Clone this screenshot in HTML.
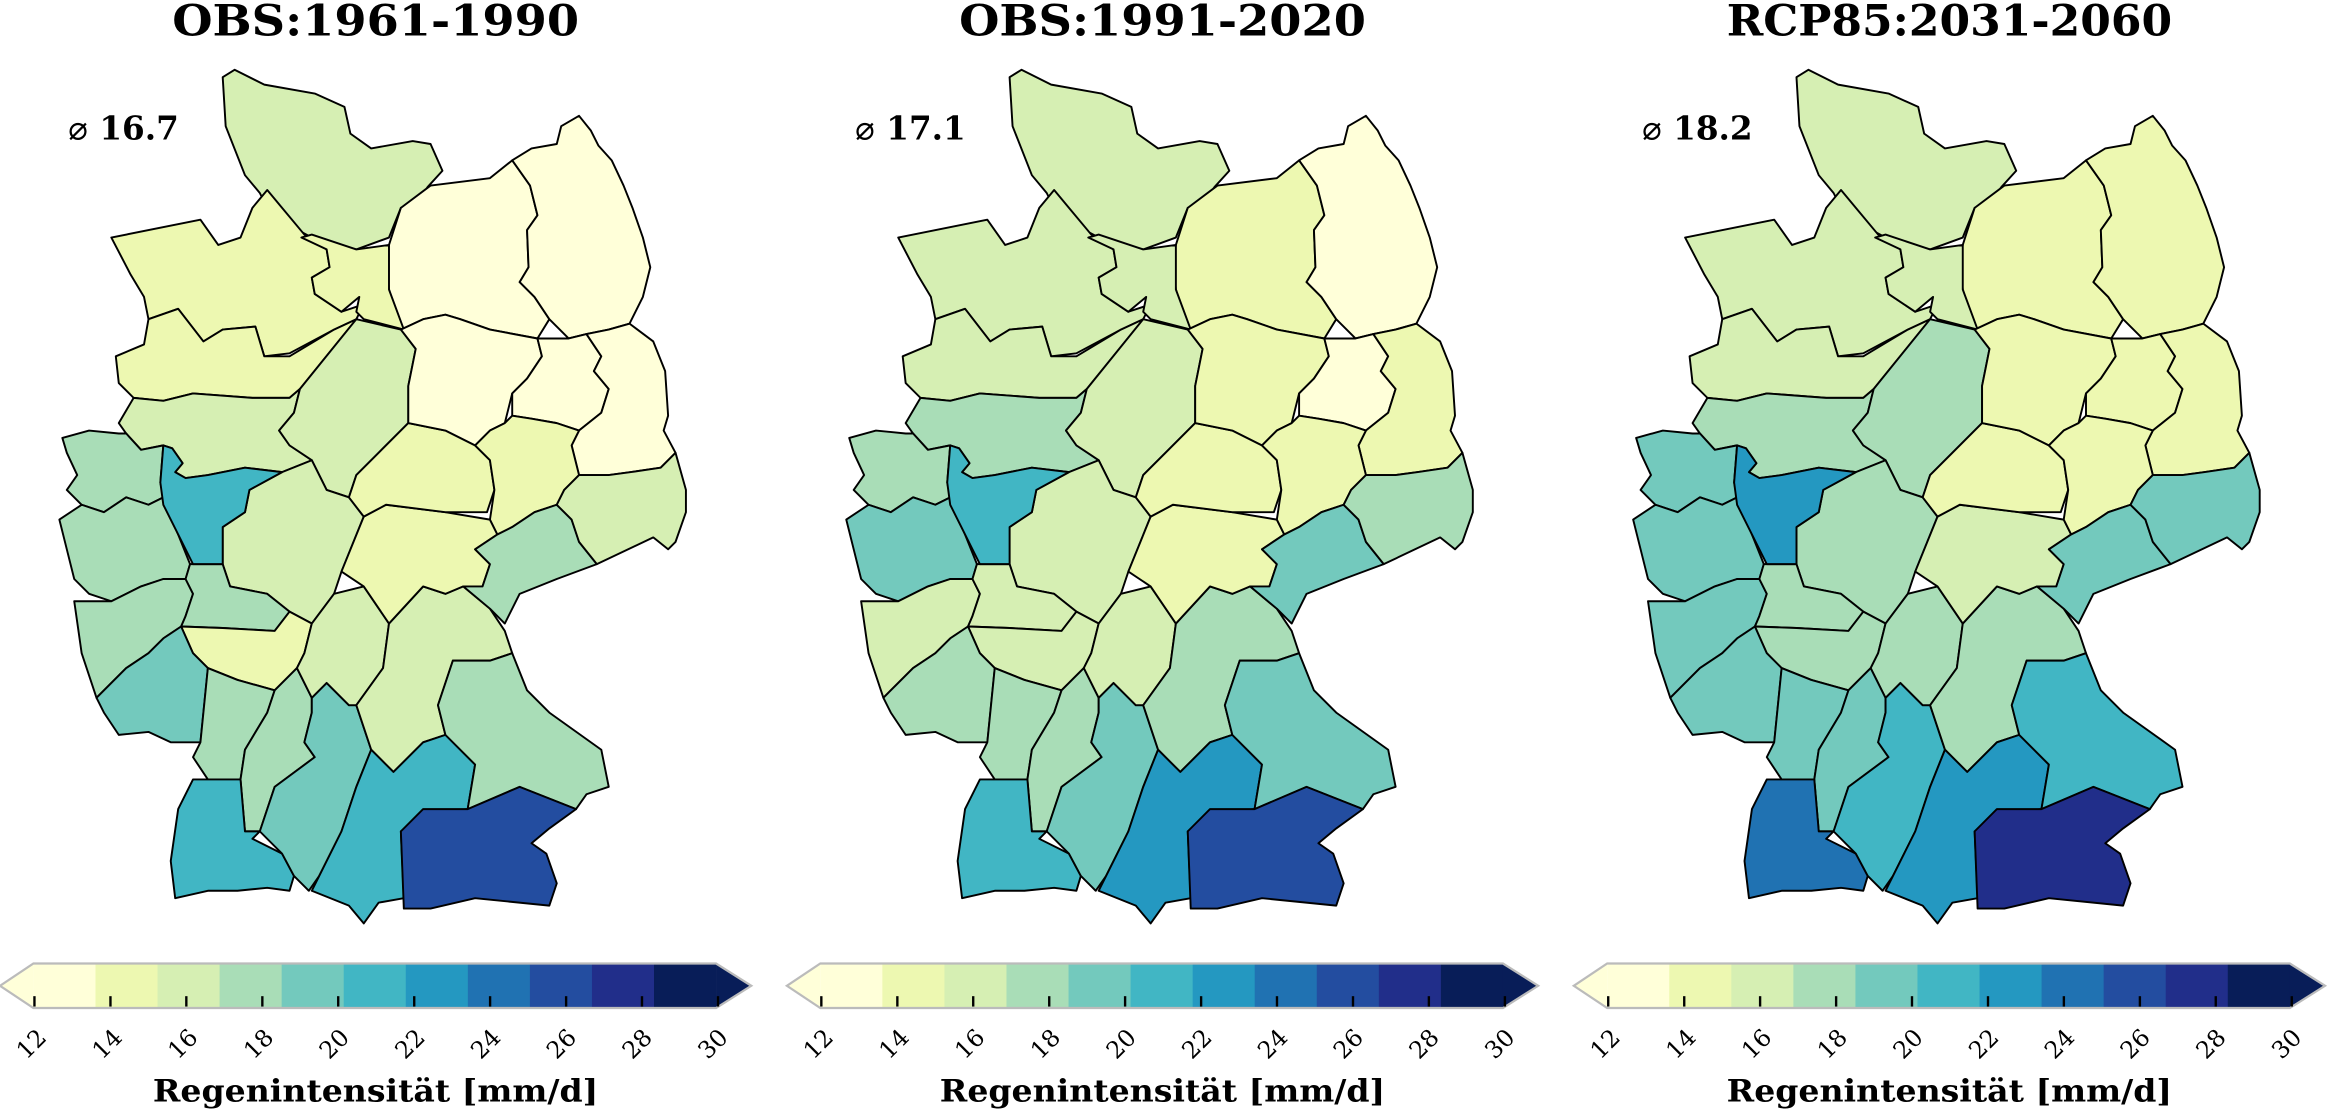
<!DOCTYPE html>
<html><head><meta charset="utf-8"><style>html,body{margin:0;padding:0;background:#fff}svg{display:block}</style></head><body>
<svg xmlns="http://www.w3.org/2000/svg" width="2328" height="1109" viewBox="0 0 1568 747" preserveAspectRatio="none">
<defs>
<polygon id="r1" points="150,52 158,47 178,57 212,63 232,72 236,90 250,100 278,95 290,97 298,115 288,126 282,135 270,140 262,160 240,168 210,160 195,152 180,140 175,130 165,118 152,85"/>
<polygon id="r2" points="262,165 270,140 290,125 330,120 345,108 357,125 362,145 355,155 356,180 350,190 360,200 370,215 362,228 330,222 310,215 300,212 285,215 270,222 262,195 260,175"/>
<polygon id="r3" points="345,108 358,100 375,97 378,85 390,78 398,88 403,98 412,108 420,125 426,140 433,160 438,180 433,200 424,218 410,222 395,225 383,228 370,215 360,200 350,190 356,180 355,155 362,145 357,125"/>
<polygon id="r4" points="75,160 135,148 147,165 162,160 170,140 180,128 190,140 205,158 220,168 222,180 210,187 212,198 230,210 245,205 240,215 225,222 195,238 178,240 172,220 150,222 137,230 120,208 100,215 97,200 88,185"/>
<polygon id="r4b" points="203,160 210,158 240,168 262,165 262,195 272,222 245,215 240,210 242,200 230,210 212,198 210,187 222,180 220,168"/>
<polygon id="r6" points="78,240 97,232 100,215 120,208 137,230 150,222 172,220 178,240 195,240 225,222 240,215 202,262 195,268 170,268 130,265 110,270 90,268 80,258"/>
<polygon id="r7" points="80,285 90,268 110,270 130,265 170,268 195,268 202,262 198,278 188,290 195,300 210,310 190,318 165,315 140,320 125,322 118,318 123,312 116,302 110,300 95,303 85,292"/>
<polygon id="r8" points="110,300 116,302 123,312 118,318 125,322 140,320 165,315 190,318 168,330 165,345 150,355 150,380 130,380 120,360 110,340 108,325"/>
<polygon id="r9" points="42,295 60,290 80,292 85,292 95,303 110,300 108,325 110,335 100,340 85,335 70,345 55,340 45,330 52,320 45,305"/>
<polygon id="r10" points="40,350 55,340 70,345 85,335 100,340 110,335 120,360 128,380 125,390 110,390 95,395 75,405 60,400 50,390 45,370"/>
<polygon id="r11" points="50,405 75,405 95,395 110,390 125,390 130,400 125,415 122,422 110,430 100,440 85,450 65,470 55,440"/>
<polygon id="r12" points="240,215 270,222 280,235 275,260 275,285 255,305 240,320 235,335 220,330 210,310 195,300 188,290 198,278 202,262"/>
<polygon id="r13" points="190,318 210,310 220,330 235,335 245,348 230,385 225,400 210,420 195,412 180,400 155,395 150,380 150,355 165,345 168,330"/>
<polygon id="r14" points="125,390 128,380 150,380 155,395 180,400 195,412 185,425 150,423 122,422 125,415 130,400"/>
<polygon id="r15" points="122,422 150,423 185,425 195,412 210,420 205,440 200,450 185,465 160,458 140,450 130,440"/>
<polygon id="r16" points="65,470 85,450 100,440 110,430 122,422 130,440 140,450 135,500 115,500 100,493 80,495 70,480"/>
<polygon id="r17" points="140,450 160,458 185,465 180,480 165,505 162,525 140,525 130,510 135,500"/>
<polygon id="r18" points="185,465 200,450 210,470 210,480 205,500 212,510 185,530 175,560 165,560 162,525 165,505 180,480"/>
<polygon id="r19" points="130,525 162,525 165,560 175,560 170,565 190,575 198,590 195,600 180,598 160,600 140,600 118,605 115,580 120,545"/>
<polygon id="r20" points="210,470 220,460 235,475 240,475 250,505 240,530 230,560 215,590 208,600 198,590 190,575 175,560 185,530 212,510 205,500 210,480"/>
<polygon id="r21" points="210,420 225,400 245,395 262,420 258,450 240,475 235,475 220,460 210,470 200,450 205,440"/>
<polygon id="r22" points="262,420 285,395 300,400 312,395 330,410 340,425 345,440 330,445 305,445 295,475 300,495 285,500 265,520 250,505 240,475 258,450"/>
<polygon id="r23" points="250,505 265,520 285,500 300,495 320,515 315,545 285,548 270,560 272,605 255,608 245,622 235,610 210,600 215,590 230,560 240,530"/>
<polygon id="r24" points="285,545 315,545 350,530 388,545 370,558 358,568 368,575 375,595 370,610 320,605 290,612 272,612 270,560"/>
<polygon id="r25" points="305,445 330,445 345,440 355,465 370,480 405,505 410,530 395,535 388,545 350,530 315,545 320,515 300,495 295,475"/>
<polygon id="r26" points="245,348 260,340 300,345 330,350 335,360 320,370 330,380 325,395 312,395 300,400 285,395 262,420 245,395 230,385"/>
<polygon id="r27" points="255,305 275,285 300,290 320,300 330,310 333,330 328,345 300,345 260,340 245,348 235,335 240,320"/>
<polygon id="r5" points="270,222 285,215 300,212 310,215 330,222 362,228 365,240 355,255 345,265 340,285 330,290 320,300 300,290 275,285 275,260 280,235"/>
<polygon id="r28a" points="362,228 383,228 395,225 405,240 400,250 410,262 405,278 390,290 375,285 358,282 345,280 345,265 355,255 365,240"/>
<polygon id="r28b" points="395,225 410,222 424,218 440,230 448,250 450,280 447,290 455,305 445,315 425,318 410,320 390,320 385,300 390,290 405,278 410,262 400,250 405,240"/>
<polygon id="r29" points="345,280 358,282 375,285 390,290 385,300 390,320 380,330 375,340 360,345 345,355 335,360 330,350 333,330 330,310 320,300 330,290 340,285"/>
<polygon id="r30" points="335,360 345,355 360,345 375,340 385,350 390,365 402,380 375,390 350,400 340,420 330,410 312,395 325,395 330,380 320,370"/>
<polygon id="r31" points="390,320 410,320 425,318 445,315 455,305 462,330 462,345 455,365 450,370 440,362 402,380 390,365 385,350 375,340 380,330"/>
<g id="cbar">
<polygon points="0,664 22.5,649 22.5,679" fill="#ffffd9"/>
<rect x="22.5" y="649" width="42.2" height="30" fill="#ffffd9"/>
<rect x="64.3" y="649" width="42.2" height="30" fill="#edf8b1"/>
<rect x="106.1" y="649" width="42.2" height="30" fill="#d6efb3"/>
<rect x="147.9" y="649" width="42.2" height="30" fill="#a9ddb7"/>
<rect x="189.7" y="649" width="42.2" height="30" fill="#73c9bd"/>
<rect x="231.5" y="649" width="42.2" height="30" fill="#41b6c4"/>
<rect x="273.3" y="649" width="42.2" height="30" fill="#2498c1"/>
<rect x="315.1" y="649" width="42.2" height="30" fill="#2072b2"/>
<rect x="356.9" y="649" width="42.2" height="30" fill="#234da0"/>
<rect x="398.7" y="649" width="42.2" height="30" fill="#212e8a"/>
<rect x="440.5" y="649" width="42" height="30" fill="#081d58"/>
<polygon points="482.3,649 506,664 482.3,679" fill="#081d58"/>
<polygon points="0,664 22.5,649 482.3,649 506,664 482.3,679 22.5,679" fill="none" stroke="#bbb" stroke-width="1.5"/>
<g stroke="#000" stroke-width="1.6">
<line x1="23.2" y1="671" x2="23.2" y2="678"/><line x1="74.4" y1="671" x2="74.4" y2="678"/><line x1="125.5" y1="671" x2="125.5" y2="678"/><line x1="176.7" y1="671" x2="176.7" y2="678"/><line x1="227.8" y1="671" x2="227.8" y2="678"/><line x1="279" y1="671" x2="279" y2="678"/><line x1="330.1" y1="671" x2="330.1" y2="678"/><line x1="381.3" y1="671" x2="381.3" y2="678"/><line x1="432.4" y1="671" x2="432.4" y2="678"/><line x1="483.6" y1="671" x2="483.6" y2="678"/>
</g>
<g font-family="DejaVu Serif, Liberation Serif, serif" font-size="16" text-anchor="middle">
<text transform="translate(25,707) rotate(-45)">12</text>
<text transform="translate(76,707) rotate(-45)">14</text>
<text transform="translate(127,707) rotate(-45)">16</text>
<text transform="translate(178,707) rotate(-45)">18</text>
<text transform="translate(229,707) rotate(-45)">20</text>
<text transform="translate(280,707) rotate(-45)">22</text>
<text transform="translate(331,707) rotate(-45)">24</text>
<text transform="translate(382,707) rotate(-45)">26</text>
<text transform="translate(433,707) rotate(-45)">28</text>
<text transform="translate(484,707) rotate(-45)">30</text>
</g>
<text x="253" y="742" font-family="DejaVu Serif, Liberation Serif, serif" font-weight="bold" font-size="21" text-anchor="middle" textLength="300" lengthAdjust="spacingAndGlyphs">Regenintensität [mm/d]</text>
</g>
</defs>
<rect width="1568" height="747" fill="#fff"/>

<g stroke="#000" stroke-width="1.3" stroke-linejoin="round">
<g>
<use href="#r1" fill="#d6efb3"/><use href="#r2" fill="#ffffd9"/><use href="#r3" fill="#ffffd9"/><use href="#r4" fill="#edf8b1"/><use href="#r4b" fill="#edf8b1"/><use href="#r6" fill="#edf8b1"/><use href="#r7" fill="#d6efb3"/><use href="#r9" fill="#a9ddb7"/><use href="#r10" fill="#a9ddb7"/><use href="#r11" fill="#a9ddb7"/><use href="#r12" fill="#d6efb3"/><use href="#r13" fill="#d6efb3"/><use href="#r14" fill="#a9ddb7"/><use href="#r15" fill="#edf8b1"/><use href="#r16" fill="#73c9bd"/><use href="#r17" fill="#a9ddb7"/><use href="#r18" fill="#a9ddb7"/><use href="#r19" fill="#41b6c4"/><use href="#r20" fill="#73c9bd"/><use href="#r21" fill="#d6efb3"/><use href="#r22" fill="#d6efb3"/><use href="#r23" fill="#41b6c4"/><use href="#r25" fill="#a9ddb7"/><use href="#r24" fill="#234da0"/><use href="#r26" fill="#edf8b1"/><use href="#r27" fill="#edf8b1"/><use href="#r5" fill="#ffffd9"/><use href="#r28a" fill="#ffffd9"/><use href="#r28b" fill="#ffffd9"/><use href="#r29" fill="#edf8b1"/><use href="#r30" fill="#a9ddb7"/><use href="#r31" fill="#d6efb3"/><use href="#r8" fill="#41b6c4"/>
</g>
<g transform="translate(530,0)">
<use href="#r1" fill="#d6efb3"/><use href="#r2" fill="#edf8b1"/><use href="#r3" fill="#ffffd9"/><use href="#r4" fill="#d6efb3"/><use href="#r4b" fill="#d6efb3"/><use href="#r6" fill="#d6efb3"/><use href="#r7" fill="#a9ddb7"/><use href="#r9" fill="#a9ddb7"/><use href="#r10" fill="#73c9bd"/><use href="#r11" fill="#d6efb3"/><use href="#r12" fill="#d6efb3"/><use href="#r13" fill="#d6efb3"/><use href="#r14" fill="#d6efb3"/><use href="#r15" fill="#d6efb3"/><use href="#r16" fill="#a9ddb7"/><use href="#r17" fill="#a9ddb7"/><use href="#r18" fill="#a9ddb7"/><use href="#r19" fill="#41b6c4"/><use href="#r20" fill="#73c9bd"/><use href="#r21" fill="#d6efb3"/><use href="#r22" fill="#a9ddb7"/><use href="#r23" fill="#2498c1"/><use href="#r25" fill="#73c9bd"/><use href="#r24" fill="#234da0"/><use href="#r26" fill="#edf8b1"/><use href="#r27" fill="#edf8b1"/><use href="#r5" fill="#edf8b1"/><use href="#r28a" fill="#ffffd9"/><use href="#r28b" fill="#edf8b1"/><use href="#r29" fill="#edf8b1"/><use href="#r30" fill="#73c9bd"/><use href="#r31" fill="#a9ddb7"/><use href="#r8" fill="#41b6c4"/>
</g>
<g transform="translate(1060,0)">
<use href="#r1" fill="#d6efb3"/><use href="#r2" fill="#edf8b1"/><use href="#r3" fill="#edf8b1"/><use href="#r4" fill="#d6efb3"/><use href="#r4b" fill="#d6efb3"/><use href="#r6" fill="#d6efb3"/><use href="#r7" fill="#a9ddb7"/><use href="#r9" fill="#73c9bd"/><use href="#r10" fill="#73c9bd"/><use href="#r11" fill="#73c9bd"/><use href="#r12" fill="#a9ddb7"/><use href="#r13" fill="#a9ddb7"/><use href="#r14" fill="#a9ddb7"/><use href="#r15" fill="#a9ddb7"/><use href="#r16" fill="#73c9bd"/><use href="#r17" fill="#73c9bd"/><use href="#r18" fill="#73c9bd"/><use href="#r19" fill="#2072b2"/><use href="#r20" fill="#41b6c4"/><use href="#r21" fill="#a9ddb7"/><use href="#r22" fill="#a9ddb7"/><use href="#r23" fill="#2498c1"/><use href="#r25" fill="#41b6c4"/><use href="#r24" fill="#212e8a"/><use href="#r26" fill="#d6efb3"/><use href="#r27" fill="#edf8b1"/><use href="#r5" fill="#edf8b1"/><use href="#r28a" fill="#edf8b1"/><use href="#r28b" fill="#edf8b1"/><use href="#r29" fill="#edf8b1"/><use href="#r30" fill="#73c9bd"/><use href="#r31" fill="#73c9bd"/><use href="#r8" fill="#2498c1"/>
</g>
</g>

<use href="#cbar"/>
<use href="#cbar" transform="translate(530,0)"/>
<use href="#cbar" transform="translate(1060,0)"/>

<g font-family="DejaVu Serif, Liberation Serif, serif" font-weight="bold" fill="#000">
<text x="253" y="24" font-size="29" text-anchor="middle" textLength="274" lengthAdjust="spacingAndGlyphs">OBS:1961-1990</text>
<text x="783" y="24" font-size="29" text-anchor="middle" textLength="274" lengthAdjust="spacingAndGlyphs">OBS:1991-2020</text>
<text x="1313" y="24" font-size="29" text-anchor="middle" textLength="300" lengthAdjust="spacingAndGlyphs">RCP85:2031-2060</text>
<g font-size="22">
<text x="46" y="94"><tspan font-weight="normal">⌀</tspan> 16.7</text>
<text x="576" y="94"><tspan font-weight="normal">⌀</tspan> 17.1</text>
<text x="1106" y="94"><tspan font-weight="normal">⌀</tspan> 18.2</text>
</g>
</g>
</svg>
</body></html>
